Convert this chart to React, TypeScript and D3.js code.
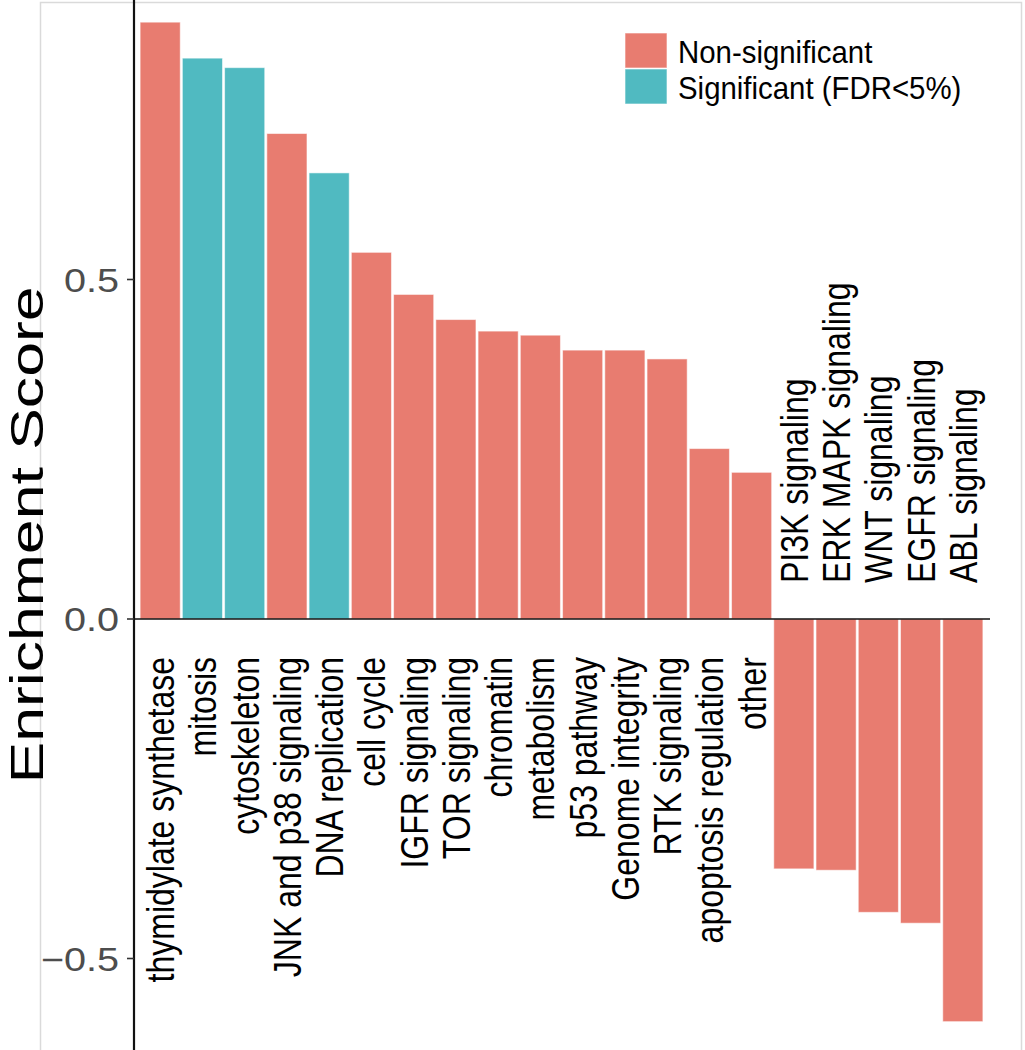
import React from "react";
import * as d3 from "d3";

const categories = [
  "thymidylate synthetase",
  "mitosis",
  "cytoskeleton",
  "JNK and p38 signaling",
  "DNA replication",
  "cell cycle",
  "IGFR signaling",
  "TOR signaling",
  "chromatin",
  "metabolism",
  "p53 pathway",
  "Genome integrity",
  "RTK signaling",
  "apoptosis regulation",
  "other",
  "PI3K signaling",
  "ERK MAPK signaling",
  "WNT signaling",
  "EGFR signaling",
  "ABL signaling",
];

const scores = [
  0.879, 0.826, 0.812, 0.715, 0.657, 0.54, 0.478, 0.441, 0.424, 0.418, 0.396,
  0.396, 0.383, 0.251, 0.216, -0.368, -0.37, -0.432, -0.448, -0.593,
];

const significant = [
  false, true, true, false, true, false, false, false, false, false, false,
  false, false, false, false, false, false, false, false, false,
];

const legendLabels = ["Non-significant", "Significant (FDR<5%)"];
const yTicks = [-0.5, 0, 0.5];

const W = 1025;
const H = 1050;
const FONT = "'Liberation Sans', Arial, Helvetica, sans-serif";

const App = () => {
  let x = d3.scaleBand<string>().domain(categories).range([138, 985]).padding(0.05);
  let y = d3.scaleLinear().domain([-0.5, 0.5]).range([958.5, 279.5]);
  let color = d3
    .scaleOrdinal<string, string>()
    .domain(legendLabels)
    .range(["#E87C70", "#50BAC1"]);
  let fmt = d3.format(".1f");
  let axisX = 134;
  let y0 = y(0);
  let bw = x.bandwidth();

  return (
    <div style={{ position: "absolute", left: 0, top: 0 }}>
      <svg width={W} height={H} style={{ display: "block", fontFamily: FONT }}>
        <rect x={0} y={0} width={W} height={H} fill="#fff" />
        {/* panel border */}
        <rect x={40.5} y={2.5} width={981} height={H + 10} fill="none" stroke="#DADADA" strokeWidth={1.5} />

        {/* bars */}
        {categories.map((c, i) => {
          let v = scores[i];
          let top = Math.min(y(v), y0);
          return (
            <rect
              key={c}
              x={x(c)}
              y={top}
              width={bw}
              height={Math.abs(y(v) - y0)}
              fill={color(legendLabels[significant[i] ? 1 : 0])}
              stroke="#fff"
              strokeOpacity={0.55}
              strokeWidth={1}
            />
          );
        })}

        {/* zero line */}
        <line x1={axisX} x2={(x.range()[1] as number) + 5} y1={y0} y2={y0} stroke="#111" strokeWidth={1.6} />

        {/* y axis */}
        <line x1={axisX} x2={axisX} y1={0} y2={H} stroke="#111" strokeWidth={2.2} />
        {yTicks.map((t) => (
          <g key={t}>
            <line x1={axisX - 7} x2={axisX} y1={y(t)} y2={y(t)} stroke="#333" strokeWidth={1.6} />
            <text
              transform={`translate(${axisX - 15},${y(t) + 12}) scale(1.2,1)`}
              textAnchor="end"
              fontSize={33}
              fill="#4D4D4D"
            >
              {fmt(t)}
            </text>
          </g>
        ))}

        {/* y title */}
        <text
          transform={`translate(43,535) rotate(-90)`}
          textAnchor="middle"
          fontSize={46}
          textLength={497}
          lengthAdjust="spacingAndGlyphs"
          fill="#000"
        >
          Enrichment Score
        </text>

        {/* category labels */}
        {categories.map((c, i) => {
          let cx = (x(c) as number) + bw / 2 + 14;
          let neg = scores[i] < 0;
          let ly = neg ? y0 - 36 : y0 + 38;
          return (
            <text
              key={c}
              transform={`translate(${cx},${ly}) scale(1.22,1) rotate(-90)`}
              textAnchor={neg ? "start" : "end"}
              fontSize={32}
              fill="#000"
            >
              {c}
            </text>
          );
        })}

        {/* legend */}
        {legendLabels.map((l, i) => (
          <g key={l} transform={`translate(625,${33 + i * 36})`}>
            <rect x={0} y={0} width={42} height={35} fill={color(l)} stroke="#fff" strokeOpacity={0.6} strokeWidth={1} />
            <text transform="translate(53,30) scale(0.98,1.05)" fontSize={30} fill="#000">
              {l}
            </text>
          </g>
        ))}
      </svg>
    </div>
  );
};

export default App;
